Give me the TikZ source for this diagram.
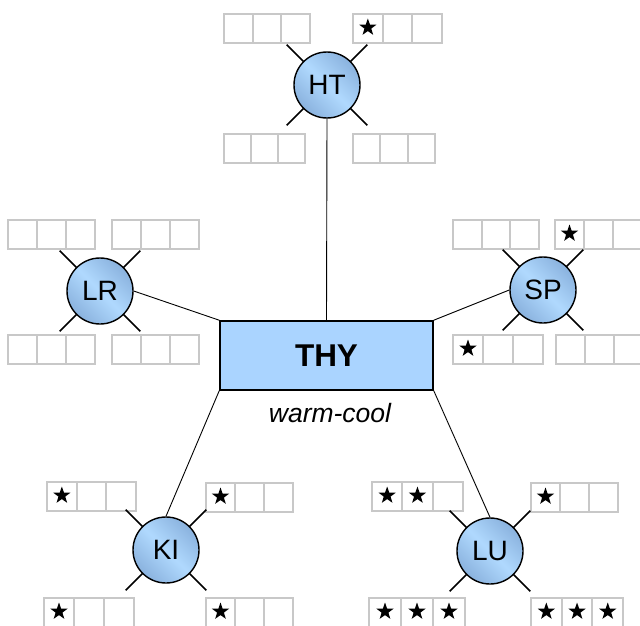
\documentclass[tikz,border=0pt]{standalone}
\usepackage{fontspec}
\setmainfont{Liberation Sans}
\usetikzlibrary{shapes.geometric,calc}
\definecolor{boxblue}{RGB}{170,212,255}
\definecolor{cirlight}{RGB}{176,217,254}
\definecolor{cirdark}{RGB}{138,178,222}
\definecolor{cellgray}{RGB}{200,200,200}
\tikzset{
  cellbox/.style={draw=cellgray, line width=2pt, fill=white, rectangle, inner sep=0pt, minimum height=29pt, anchor=north west},
  starmark/.style={star, star points=5, star point ratio=2.5, fill=black, draw=none, inner sep=0pt, minimum size=18pt},
  hub/.style={circle, draw=black, line width=1.4pt, minimum size=66pt, inner sep=0pt,
    left color=cirdark, right color=cirdark, middle color=cirlight, shading angle=135,
    font=\fontsize{28pt}{30pt}\selectfont},
  tick/.style={draw=black, line width=1.6pt},
  link/.style={draw=black, line width=0.9pt},
  center box/.style={rectangle, draw=black, line width=1.6pt, fill=boxblue, minimum width=213pt, minimum height=69pt,
    font=\fontsize{31.5pt}{33pt}\selectfont\bfseries}
}
\newcommand\cellrow[5]{%
  \foreach \i in {1,2,3} {
    \node[cellbox, minimum width=#4pt] (#1\i) at ({#2+(\i-1)*#4},#3) {};
    \ifnum\i>#5\relax\else
      \node[starmark] (#1s\i) at ($(#1\i.center)+(0,-1)$) {};
    \fi
  }%
}
\newcommand\hubticks[1]{%
  \foreach \a in {45,135,225,315}
    \draw[tick] ($(#1.center)+(\a:30)$) -- ($(#1.center)+(\a:57)$);
}
\begin{document}
\begin{tikzpicture}[x=1pt, y=-1pt]
\useasboundingbox (0,0) rectangle (640,626);
\fill[white] (0,0) rectangle (640,626);
% cell rows
\cellrow{HTa}{223}{13}{28.7}{0}
\cellrow{HTb}{352}{13}{29.7}{1}
\cellrow{HTc}{223}{133}{27}{0}
\cellrow{HTd}{352}{133}{27.3}{0}
\cellrow{LRa}{7}{219}{29}{0}
\cellrow{LRb}{111}{219}{29}{0}
\cellrow{LRc}{7}{334}{29}{0}
\cellrow{LRd}{111}{334}{29}{0}
\cellrow{SPa}{452}{219}{28.7}{0}
\cellrow{SPb}{554}{219}{29}{1}
\cellrow{SPc}{452}{334}{30}{1}
\cellrow{SPd}{555}{334}{29}{0}
\cellrow{KIa}{46}{481}{29.7}{1}
\cellrow{KIb}{205}{482}{29}{1}
\cellrow{KIc}{43}{597}{30}{1}
\cellrow{KId}{205}{597}{29}{1}
\cellrow{LUa}{371}{481}{30.3}{2}
\cellrow{LUb}{530}{482}{29}{1}
\cellrow{LUc}{368}{597}{32}{3}
\cellrow{LUd}{530}{597}{30.7}{3}
% hub centres and ticks (drawn first, under the circles)
\coordinate (HTc0) at (327,85);
\coordinate (LRc0) at (100,291);
\coordinate (SPc0) at (543,290);
\coordinate (KIc0) at (166,550);
\coordinate (LUc0) at (490,551);
\hubticks{HTc0}
\hubticks{LRc0}
\hubticks{SPc0}
\hubticks{KIc0}
\hubticks{LUc0}
% centre box
\node[center box] (thy) at (326.5,355.5) {THY};
\node[font=\fontsize{26.5pt}{28pt}\selectfont\itshape] (cap) at (330,413) {warm-cool};
% hubs
\node[hub] (HT) at (HTc0) {HT};
\node[hub] (LR) at (LRc0) {LR};
\node[hub] (SP) at (SPc0) {SP};
\node[hub] (KI) at (KIc0) {KI};
\node[hub] (LU) at (LUc0) {LU};
% connectors
\draw[link] (HT.south) -- (thy.north);
\draw[link] (LR.east) -- (thy.north west);
\draw[link] (SP.west) -- (thy.north east);
\draw[link] (KI.north) -- (thy.south west);
\draw[link] (LU.north) -- (thy.south east);
\end{tikzpicture}
\end{document}
